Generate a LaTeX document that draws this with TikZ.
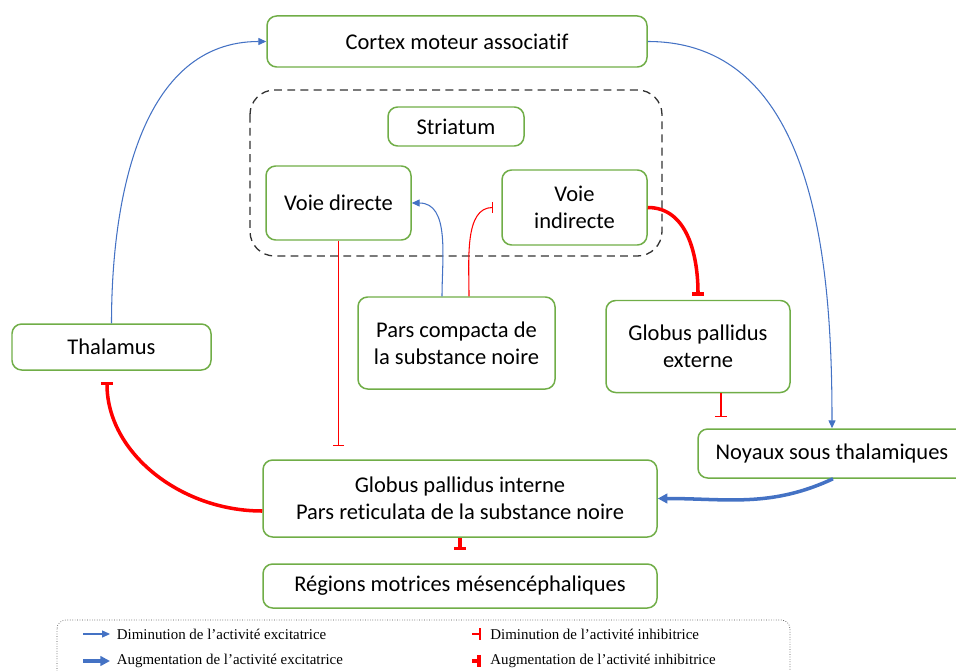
\documentclass[tikz,border=0pt]{standalone}
\usepackage{fontspec}
\setmainfont{Carlito}[Ligatures=NoCommon]
\newfontfamily\legfont{Liberation Serif}
\usetikzlibrary{arrows.meta}
\definecolor{vert}{HTML}{70AD47}
\definecolor{bleu}{HTML}{4472C4}
\definecolor{rouge}{rgb}{1,0,0}

\begin{document}
\begin{tikzpicture}[
    font=\fontsize{12.8}{15.2}\selectfont,
    boite/.style={draw=vert, line width=0.85pt, rounded corners=5.5pt, align=center, inner sep=0pt},
    excit/.style={bleu, line width=0.6pt, -{Triangle[length=4.5pt,width=4pt]}},
    excitfort/.style={bleu, line width=2pt, -{Triangle[length=5.5pt,width=5.5pt]}},
    inhib/.style={rouge, line width=0.6pt, -{Bar[width=6.5pt]}},
    inhibfort/.style={rouge, line width=2pt, -{Bar[width=7pt]}},
    legende/.style={anchor=west, inner sep=0pt, font=\legfont\fontsize{8.5}{10}\selectfont}
  ]
  \useasboundingbox (0,0) rectangle (19.12,-13.4);

  % cadre du striatum
  \draw[black!80, line width=0.75pt, dash pattern=on 4.5pt off 3pt, rounded corners=14pt] (5,-1.8) rectangle (13.24,-5.12);

  \node[boite, minimum width=7.6cm, minimum height=1.02cm] (cortex) at (9.14,-0.83) {Cortex moteur associatif};
  \node[boite, minimum width=2.72cm, minimum height=0.78cm] (striatum) at (9.12,-2.53) {Striatum};
  \node[boite, minimum width=2.9cm, minimum height=1.48cm] (directe) at (6.77,-4.06) {Voie directe};
  \node[boite, minimum width=2.9cm, minimum height=1.5cm] (indirecte) at (11.49,-4.15) {Voie\\indirecte};
  \node[boite, minimum width=3.94cm, minimum height=1.84cm] (compacta) at (9.13,-6.86) {Pars compacta de\\la substance noire};
  \node[boite, minimum width=3.68cm, minimum height=1.84cm] (gpe) at (13.96,-6.93) {Globus pallidus\\externe};
  \node[boite, minimum width=3.98cm, minimum height=0.92cm] (thalamus) at (2.23,-6.94) {Thalamus};
  \node[boite, minimum width=5.36cm, minimum height=0.98cm] (nst) at (16.64,-9.07) {Noyaux sous thalamiques};
  \node[boite, minimum width=7.88cm, minimum height=1.54cm] (gpi) at (9.2,-9.97) {Globus pallidus interne\\Pars reticulata de la substance noire};
  \node[boite, minimum width=7.88cm, minimum height=0.88cm] (regions) at (9.2,-11.72) {Régions motrices mésencéphaliques};

  % connexions
  \draw[excit] (thalamus.north) to[out=90, in=180] (cortex.west);
  \draw[excit] (cortex.east) to[out=0, in=90] (nst.north);
  \draw[excit] ([xshift=-0.29cm]compacta.north) to[out=90, in=0] (directe.east);
  \draw[inhib, shorten >=0.16cm] ([xshift=0.25cm]compacta.north) to[out=90, in=180] (indirecte.west);
  \draw[inhib, shorten >=0.26cm] (directe.south) -- (directe.south |- gpi.north);
  \draw[inhibfort, shorten >=0.08cm] (indirecte.east) to[out=0, in=90] (gpe.north);
  \draw[inhib, shorten >=0.22cm] ([xshift=0.46cm]gpe.south) -- ([xshift=0.46cm]gpe.south |- nst.north);
  \draw[excitfort] ([xshift=0.02cm]nst.south) to[out=-155, in=0] (gpi.east);
  \draw[inhibfort, shorten >=0.22cm] ([yshift=-0.25cm]gpi.west) to[out=180, in=-90] ([xshift=-0.09cm]thalamus.south);
  \draw[inhibfort, shorten >=0.26cm] (gpi.south) -- (gpi.south |- regions.north);

  % legende
  \draw[black!70, densely dotted, rounded corners=5pt] (1.14,-12.4) rectangle (15.8,-13.8);
  \node[legende] (leg1) at (2.33,-12.68) {Diminution de l’activité excitatrice};
  \node[legende] (leg2) at (2.33,-13.22) {Augmentation de l’activité excitatrice};
  \node[legende] (leg3) at (9.8,-12.68) {Diminution de l’activité inhibitrice};
  \node[legende] (leg4) at (9.8,-13.22) {Augmentation de l’activité inhibitrice};
  \draw[excit] ([xshift=-0.67cm]leg1.west) -- ([xshift=-0.13cm]leg1.west);
  \draw[excitfort] ([xshift=-0.67cm]leg2.west) -- ([xshift=-0.13cm]leg2.west);
  \draw[inhib, line width=1.1pt] ([xshift=-0.36cm]leg3.west) -- ([xshift=-0.18cm]leg3.west);
  \draw[inhibfort] ([xshift=-0.36cm]leg4.west) -- ([xshift=-0.18cm]leg4.west);
\end{tikzpicture}
\end{document}
